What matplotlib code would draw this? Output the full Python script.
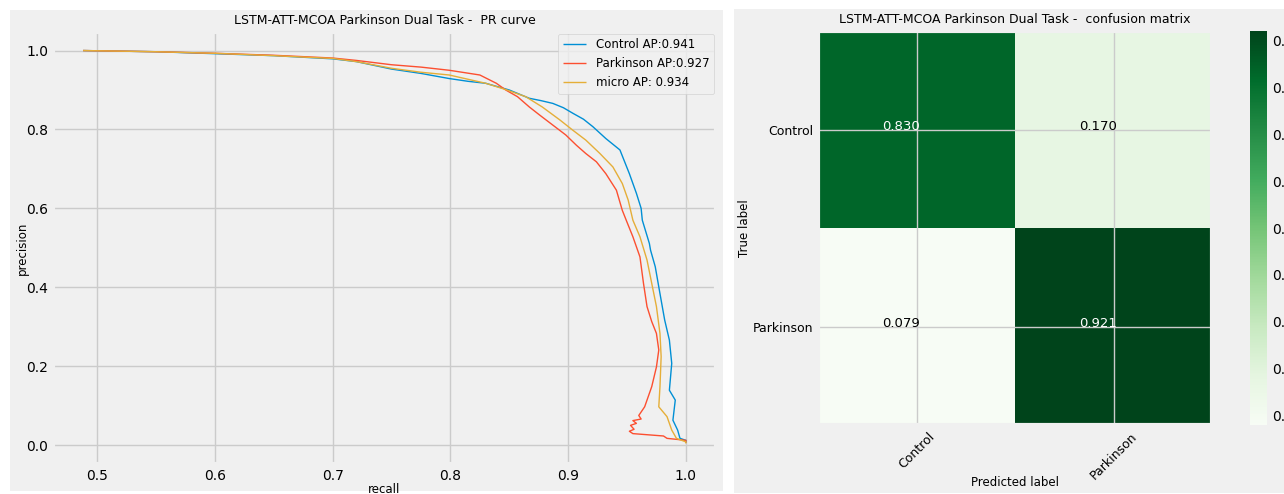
import numpy as np
import matplotlib
matplotlib.use("Agg")
import matplotlib.pyplot as plt
from matplotlib.patches import Rectangle

plt.style.use("fivethirtyeight")

# PR curve points (recall, precision)
control_recall = [0.488, 0.55, 0.60, 0.65, 0.70, 0.72, 0.75, 0.775, 0.799, 0.815, 0.830, 0.850, 0.867,
                  0.877, 0.887, 0.896, 0.904, 0.913, 0.921, 0.932, 0.944, 0.952, 0.958, 0.962, 0.963,
                  0.969, 0.970, 0.974, 0.978, 0.982, 0.986, 0.988, 0.986, 0.991, 0.989, 0.993, 0.995, 1.0, 1.0]
control_precision = [1.0, 0.997, 0.992, 0.987, 0.979, 0.972, 0.953, 0.942, 0.929, 0.922, 0.917, 0.900, 0.879,
                     0.873, 0.866, 0.855, 0.841, 0.826, 0.807, 0.777, 0.748, 0.688, 0.638, 0.600, 0.570,
                     0.511, 0.494, 0.452, 0.384, 0.317, 0.266, 0.207, 0.139, 0.114, 0.063, 0.038, 0.017, 0.012, 0.006]

parkinson_recall = [0.488, 0.55, 0.60, 0.65, 0.70, 0.72, 0.75, 0.775, 0.799, 0.825, 0.839, 0.847, 0.857,
                    0.867, 0.876, 0.887, 0.898, 0.907, 0.915, 0.924, 0.932, 0.941, 0.946, 0.950, 0.955,
                    0.961, 0.964, 0.967, 0.971, 0.975, 0.977, 0.975, 0.971, 0.965, 0.960, 0.962, 0.955,
                    0.958, 0.953, 0.956, 0.952, 0.955, 0.981, 0.984, 1.0, 1.0]
parkinson_precision = [1.0, 0.997, 0.993, 0.988, 0.981, 0.975, 0.964, 0.958, 0.950, 0.938, 0.917, 0.900, 0.883,
                       0.857, 0.836, 0.811, 0.786, 0.760, 0.739, 0.718, 0.688, 0.646, 0.595, 0.565, 0.528,
                       0.477, 0.410, 0.351, 0.313, 0.283, 0.241, 0.198, 0.148, 0.097, 0.075, 0.066, 0.062,
                       0.055, 0.050, 0.040, 0.035, 0.029, 0.023, 0.017, 0.012, 0.006]

micro_recall = [0.488, 0.55, 0.60, 0.65, 0.70, 0.72, 0.75, 0.775, 0.799, 0.830, 0.847, 0.864, 0.878,
                0.893, 0.904, 0.915, 0.927, 0.938, 0.946, 0.951, 0.955, 0.961, 0.967, 0.971, 0.975,
                0.978, 0.979, 0.978, 0.977, 0.984, 0.988, 0.992, 1.0, 1.0]
micro_precision = [1.0, 0.997, 0.993, 0.987, 0.980, 0.972, 0.955, 0.945, 0.938, 0.917, 0.901, 0.883, 0.857,
                   0.824, 0.798, 0.773, 0.739, 0.705, 0.663, 0.621, 0.570, 0.528, 0.469, 0.410, 0.351,
                   0.283, 0.224, 0.148, 0.097, 0.072, 0.038, 0.017, 0.008, 0.004]

curve_labels = ["Control AP:0.941", "Parkinson AP:0.927", "micro AP: 0.934"]

classes = ["Control", "Parkinson"]
cm = np.array([[0.830, 0.170],
               [0.079, 0.921]])

W, H = 1284, 494
fig = plt.figure(figsize=(W / 100, H / 100), dpi=100, facecolor="white")

# two grey panels like two saved figures side by side
for x0, x1, y0, y1 in [(10, 723, 10, 491), (734, 1284, 9, 493)]:
    fig.patches.append(Rectangle((x0 / W, 1 - y1 / H), (x1 - x0) / W, (y1 - y0) / H,
                                 transform=fig.transFigure, facecolor="#f0f0f0",
                                 edgecolor="none", zorder=-1))

def ax_box(x0, x1, y0, y1):
    return [x0 / W, 1 - y1 / H, (x1 - x0) / W, (y1 - y0) / H]

# ---- PR curve ----
ax = fig.add_axes(ax_box(53, 716, 32, 464))
ax.plot(control_recall, control_precision, lw=1, label=curve_labels[0])
ax.plot(parkinson_recall, parkinson_precision, lw=1, label=curve_labels[1])
ax.plot(micro_recall, micro_precision, lw=1, label=curve_labels[2])
ax.set_ylim(-0.048, 1.047)
ax.set_title("LSTM-ATT-MCOA Parkinson Dual Task -  PR curve", fontsize=9)
ax.set_xlabel("recall", fontsize=8.5, labelpad=0)
ax.set_ylabel("precision", fontsize=8.5, labelpad=-2)
ax.tick_params(labelsize=10)
ax.legend(loc="upper right", fontsize=8.5, borderaxespad=0.15)

# ---- confusion matrix ----
ax2 = fig.add_axes(ax_box(818, 1212, 31, 425))
im = ax2.imshow(cm, interpolation="nearest", cmap=plt.cm.Greens, aspect="auto")
ax2.set_title("LSTM-ATT-MCOA Parkinson Dual Task -  confusion matrix", fontsize=9)
ticks = np.arange(len(classes))
ax2.set_xticks(ticks)
ax2.set_xticklabels(classes, rotation=45, fontsize=9)
ax2.set_yticks(ticks)
ax2.set_yticklabels(classes, fontsize=9)
thresh = cm.max() / 2.
for i in range(cm.shape[0]):
    for j in range(cm.shape[1]):
        ax2.annotate(format(cm[i, j], ".3f"), (j, i), xytext=(-11, 0), textcoords="offset points",
                     ha="center", va="baseline", fontsize=9.5,
                     color="white" if cm[i, j] > thresh else "black")
ax2.set_ylabel("True label", fontsize=8.5, labelpad=1)
ax2.set_xlabel("Predicted label", fontsize=8.5, labelpad=-4)

cax = fig.add_axes(ax_box(1250, 1267, 31, 425))
cb = fig.colorbar(im, cax=cax)
cb.outline.set_visible(False)
cb.ax.tick_params(labelsize=10)

fig.savefig("out.png", dpi=100, facecolor="white")
